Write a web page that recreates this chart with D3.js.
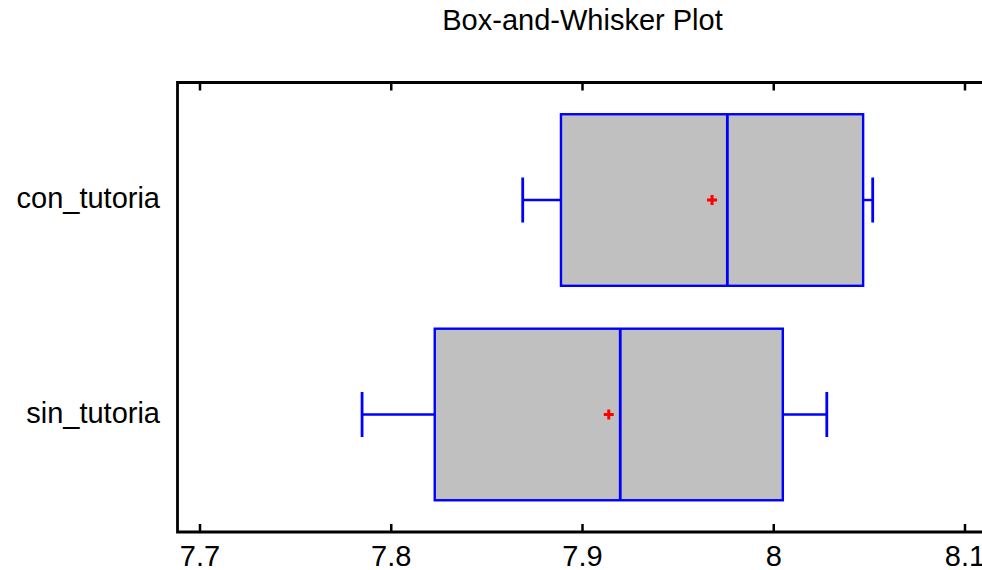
<!DOCTYPE html>
<html>
<head>
<meta charset="utf-8">
<script src="https://cdn.jsdelivr.net/npm/d3@7"></script>
<style>
  body { margin: 0; background: #fff; }
  svg { display: block; }
  svg text { font-family: "Liberation Sans", Arial, sans-serif; fill: #000; }
</style>
</head>
<body>
<div id="container"></div>
<script>
var canvas_width = 982, canvas_height = 570;

// data
var categories  = ['con_tutoria', 'sin_tutoria'];
var whiskerLow  = [7.869, 7.785];
var q1          = [7.889, 7.823];
var median      = [7.976, 7.920];
var q3          = [8.047, 8.005];
var whiskerHigh = [8.052, 8.028];
var means       = [7.968, 7.914];
var xTicks      = [7.7, 7.8, 7.9, 8.0, 8.1];
var xTickLabels = ['7.7', '7.8', '7.9', '8', '8.1'];

var plot = { left: 177.5, top: 82.5, right: 995, bottom: 532 };

var svg = d3.select('#container').append('svg')
  .attr('width', canvas_width).attr('height', canvas_height);

// ************************************************************************************** //
// Scales

var xScale = d3.scaleLinear().domain([7.7, 8.1]).range([199.5, 964.5]);
var yScale = d3.scalePoint().domain(categories).range([plot.top, plot.bottom]).padding(0.548);
var step = yScale.step();
var boxH = 0.8 * step, capH = 0.21 * step;

// title
svg.append('text')
  .attr('x', 582.5).attr('y', 30)
  .attr('text-anchor', 'middle')
  .style('font-size', '29px')
  .text('Box-and-Whisker Plot');

// ************************************************************************************** //
// Boxes

var rows = categories.map(function(c, i){
  return { cat: c, lo: whiskerLow[i], q1: q1[i], med: median[i], q3: q3[i], hi: whiskerHigh[i], mean: means[i] };
});

var g = svg.append('g').selectAll('g').data(rows).enter().append('g')
  .attr('transform', function(d){ return 'translate(0,' + yScale(d.cat) + ')'; });

g.append('line') // whiskers
  .attr('x1', function(d){ return xScale(d.lo); }).attr('x2', function(d){ return xScale(d.q1); })
  .attr('y1', 0).attr('y2', 0).attr('stroke', '#0000ff').attr('stroke-width', 2.4);
g.append('line')
  .attr('x1', function(d){ return xScale(d.q3); }).attr('x2', function(d){ return xScale(d.hi); })
  .attr('y1', 0).attr('y2', 0).attr('stroke', '#0000ff').attr('stroke-width', 2.4);
g.append('line') // caps
  .attr('x1', function(d){ return xScale(d.lo); }).attr('x2', function(d){ return xScale(d.lo); })
  .attr('y1', -capH/2).attr('y2', capH/2).attr('stroke', '#0000ff').attr('stroke-width', 2.8);
g.append('line')
  .attr('x1', function(d){ return xScale(d.hi); }).attr('x2', function(d){ return xScale(d.hi); })
  .attr('y1', -capH/2).attr('y2', capH/2).attr('stroke', '#0000ff').attr('stroke-width', 2.8);

g.append('rect')
  .attr('x', function(d){ return xScale(d.q1); })
  .attr('width', function(d){ return xScale(d.q3) - xScale(d.q1); })
  .attr('y', -boxH/2).attr('height', boxH)
  .attr('fill', '#c0c0c0').attr('stroke', '#0000ff').attr('stroke-width', 2.4);

g.append('line') // median
  .attr('x1', function(d){ return xScale(d.med); }).attr('x2', function(d){ return xScale(d.med); })
  .attr('y1', -boxH/2).attr('y2', boxH/2).attr('stroke', '#0000ff').attr('stroke-width', 2.8);

g.append('path') // mean marker
  .attr('d', function(d){
    var x = xScale(d.mean);
    return 'M' + (x-5) + ',0H' + (x+5) + 'M' + x + ',-5V5';
  })
  .attr('stroke', '#ff0000').attr('stroke-width', 3).attr('fill', 'none');

// ************************************************************************************** //
// Axes

var xAxisBottom = svg.append('g').attr('transform', 'translate(0,' + plot.bottom + ')')
  .call(d3.axisBottom(xScale).tickValues(xTicks).tickSizeInner(-8).tickSizeOuter(0).tickPadding(13)
    .tickFormat(function(d, i){ return xTickLabels[i]; }));
xAxisBottom.select('.domain').remove();
xAxisBottom.selectAll('.tick line').attr('stroke', '#000').attr('stroke-width', 2.5);
xAxisBottom.selectAll('.tick text').style('font-size', '29px').attr('font-family', null);

var xAxisTop = svg.append('g').attr('transform', 'translate(0,' + plot.top + ')')
  .call(d3.axisTop(xScale).tickValues(xTicks).tickSizeInner(-8).tickSizeOuter(0).tickFormat(''));
xAxisTop.select('.domain').remove();
xAxisTop.selectAll('.tick line').attr('stroke', '#000').attr('stroke-width', 2.5);

var yAxis = svg.append('g').attr('transform', 'translate(' + plot.left + ',0)')
  .call(d3.axisLeft(yScale).tickSize(0).tickPadding(17.5));
yAxis.select('.domain').remove();
yAxis.selectAll('.tick text').style('font-size', '29px').attr('font-family', null).attr('dy', '0.27em');

// frame: top, left, bottom (right side falls outside the picture)
svg.append('path')
  .attr('d', 'M' + plot.right + ',' + plot.top + 'H' + plot.left + 'V' + plot.bottom + 'H' + plot.right)
  .attr('fill', 'none').attr('stroke', '#000').attr('stroke-width', 2.8);
</script>
</body>
</html>
